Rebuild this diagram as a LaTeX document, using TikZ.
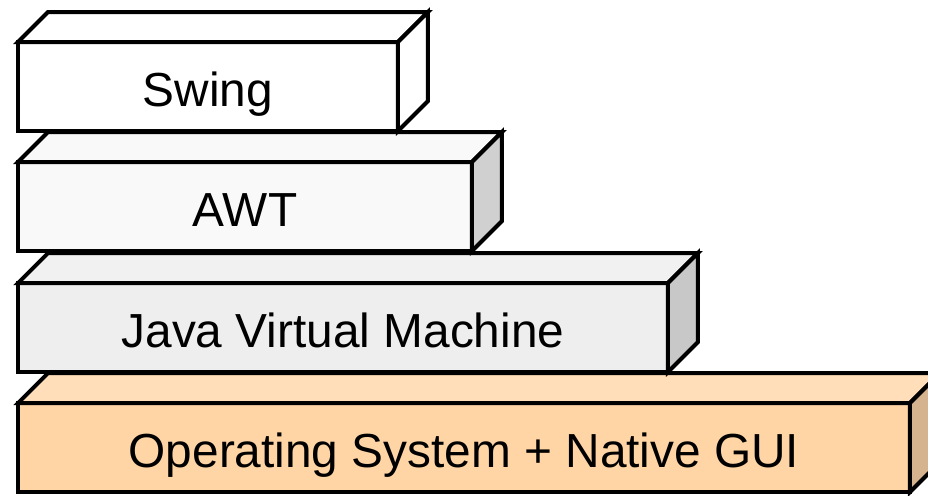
\documentclass[tikz,border=0pt]{standalone}
\usepackage{fontspec}
\setmainfont{Liberation Sans}

\definecolor{swingfront}{HTML}{FFFFFF}
\definecolor{awtfront}{HTML}{F9F9F9}
\definecolor{awtside}{HTML}{D0D0D0}
\definecolor{jvmfront}{HTML}{EEEEEE}
\definecolor{jvmtop}{HTML}{F1F1F1}
\definecolor{jvmside}{HTML}{C8C8C8}
\definecolor{osfront}{HTML}{FFD5A5}
\definecolor{ostop}{HTML}{FFDEB9}
\definecolor{osside}{HTML}{D5B38E}

\tikzset{
  layer/.style={draw, line width=0.08cm, outer sep=0pt, inner sep=0pt,
    minimum height=1.78cm, text height=0.78cm, text depth=0pt,
    font=\fontsize{27.2}{32}\selectfont},
  face/.style={draw, line width=0.08cm, line join=miter},
}

% front face is the node, top and right faces hang off its anchors
\newcommand{\cubefaces}[3]{%
  \draw[face, fill=#2] (#1.north west) -- ++(30,-30)
    -- ([shift={(30,-30)}]#1.north east) -- (#1.north east) -- cycle;
  \draw[face, fill=#3] (#1.north east) -- ++(30,-30)
    -- ([shift={(30,-30)}]#1.south east) -- (#1.south east) -- cycle;
}

\begin{document}
\begin{tikzpicture}[x=0.02cm, y=-0.02cm]
    \useasboundingbox (0,0) rectangle (928,495);
    \clip (0,0) rectangle (928,495);

    % Operating system
    \node[layer, fill=osfront, minimum width=17.84cm] (os) at (464,447.5)
        {Operating System + Native GUI};
    \cubefaces{os}{ostop}{osside}

    % JVM
    \node[layer, fill=jvmfront, minimum width=13cm] (jvm) at (343,327.5)
        {Java Virtual Machine};
    \cubefaces{jvm}{jvmtop}{jvmside}

    % AWT
    \node[layer, fill=awtfront, minimum width=9.08cm] (awt) at (245,206.5) {AWT};
    \cubefaces{awt}{awtfront}{awtside}

    % Swing
    \node[layer, fill=swingfront, minimum width=7.6cm] (swing) at (208,86.5) {Swing};
    \cubefaces{swing}{swingfront}{swingfront}
\end{tikzpicture}
\end{document}
